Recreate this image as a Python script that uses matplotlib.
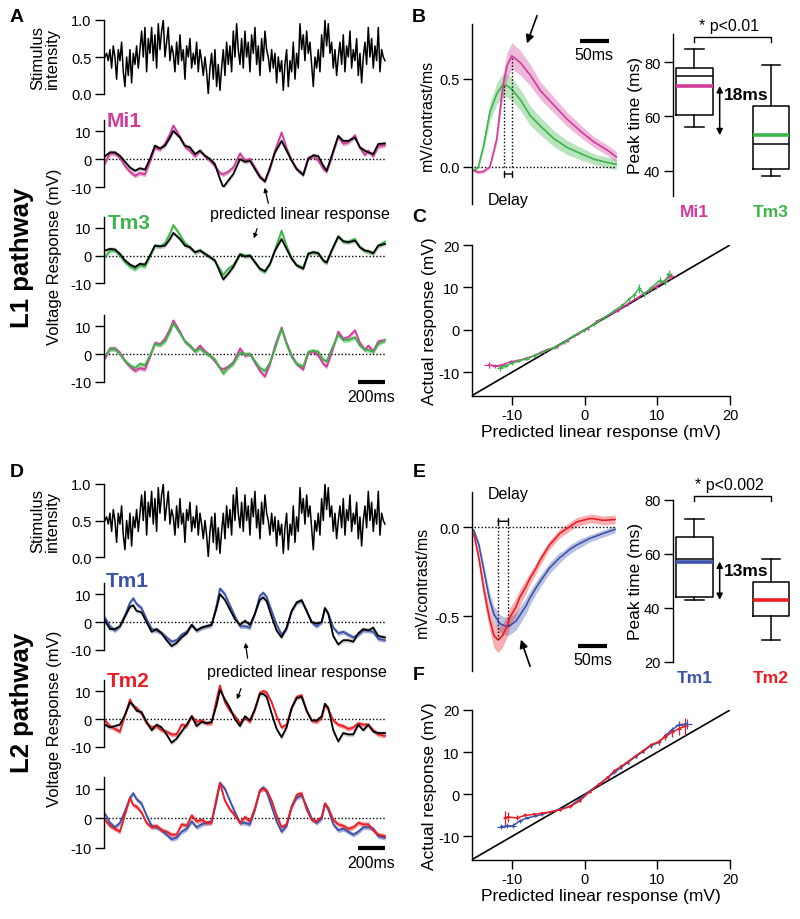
import numpy as np
import matplotlib
matplotlib.use('Agg')
import matplotlib.pyplot as plt
from matplotlib.ticker import FormatStrFormatter

plt.rcParams['font.family'] = ['Liberation Sans', 'DejaVu Sans']
plt.rcParams['axes.unicode_minus'] = False
plt.rcParams['axes.linewidth'] = 1.0

# colours
C_MI1 = '#d13b9b'
C_TM3 = '#3bb44a'
C_TM1 = '#3d52aa'
C_TM2 = '#ec1c24'

# ---- stimulus (same flicker for both pathways) ----
stim = [0.5, 0.55, 0.45, 0.6, 0.35, 0.65, 0.5, 0.2, 0.6, 0.45, 0.7, 0.3, 0.1, 0.5, 0.25, 0.6, 0.15, 0.55, 0.4, 0.65, 0.35,
        0.6, 0.85, 0.5, 0.9, 0.3, 0.75, 0.55, 0.9, 0.45, 0.8, 0.35, 0.95, 0.6, 0.85, 1.0, 0.5, 0.7, 0.9, 0.45, 0.65,
        0.55, 0.3, 0.7, 0.4, 0.8, 0.45, 0.6, 0.2, 0.65, 0.5, 0.75, 0.35, 0.55, 0.4, 0.7, 0.3, 0.6, 0.45, 0.25, 0.5,
        0.3, 0.0, 0.35, 0.55, 0.2, 0.6, 0.1, 0.4, 0.05, 0.35, 0.6, 0.25, 0.7, 0.4, 0.65, 0.3, 0.85, 0.5, 0.95, 0.6,
        0.4, 0.75, 0.35, 0.85, 0.5, 0.7, 0.3, 0.8, 0.55, 0.9, 0.4, 0.65, 0.25, 0.75, 0.45, 0.85, 0.6, 0.5, 0.3, 0.6,
        0.35, 0.55, 0.15, 0.5, 0.3, 0.45, 0.05, 0.4, 0.6, 0.1, 0.45, 0.3, 0.7, 0.2, 0.55, 0.35, 0.95, 0.6, 0.8, 0.45,
        0.85, 0.55, 0.7, 0.4, 0.1, 0.5, 0.35, 0.6, 0.3, 0.8, 0.5, 1.0, 0.65, 0.95, 0.55, 0.7, 0.35, 0.6, 0.25, 0.5,
        0.7, 0.4, 0.8, 0.3, 0.65, 0.5, 0.85, 0.35, 0.6, 0.45, 0.75, 0.25, 0.55, 0.15, 0.5, 0.7, 0.4, 0.9, 0.5, 0.75,
        0.35, 0.65, 0.45, 0.9, 0.3, 0.6, 0.5, 0.45]
stim_dur = 2080  # ms

# ---- L1 pathway responses (mV) ----
t_L1 = [0, 37, 74, 111, 149, 186, 223, 260, 297, 334, 371, 409, 446, 483, 508, 557, 594, 631, 669, 706,
        743, 780, 817, 854, 879, 916, 953, 1003, 1040, 1077, 1114, 1151, 1188, 1226, 1263, 1312, 1349, 1387, 1424, 1473,
        1510, 1548, 1585, 1622, 1647, 1684, 1733, 1770, 1807, 1857, 1894, 1931, 1956, 1993, 2030, 2080]
mi1 = [-1.5, 2.0, 2.0, 0.5, -2.5, -4.5, -6.0, -5.0, -5.5, -1.0, 4.0, 3.5, 5.5, 9.0, 12.0, 8.0, 4.5, 3.0, 1.0, 3.0,
       1.0, -0.5, -2.5, -5.0, -5.5, -4.5, -3.0, 2.0, -0.5, 0.0, -3.0, -6.0, -8.0, -3.5, 3.0, 9.5, 4.0, -0.5, -3.5, -5.5,
       0.5, 1.0, -0.5, -3.5, -4.5, 0.5, 8.0, 5.5, 6.0, 8.5, 4.0, 1.5, 3.0, 1.0, 4.5, 5.0]
mi1_pred = [1.0, 2.4, 2.4, 1.2, -1.0, -3.0, -4.2, -3.3, -3.8, 0.0, 4.8, 3.8, 4.8, 7.7, 10.1, 7.7, 4.8, 4.2, 1.8, 3.0,
            1.2, 0.0, -1.8, -7.1, -10.1, -7.7, -5.4, 0.0, -1.0, -0.6, -3.6, -6.5, -8.0, -3.0, 2.4, 6.5, 3.0, -0.6, -3.6, -5.7,
            0.0, 1.4, 1.0, -2.4, -4.2, 1.2, 8.3, 6.5, 6.5, 7.7, 4.2, 3.0, 2.4, 1.8, 5.4, 5.6]
tm3 = [-0.6, 1.8, 1.8, 0.0, -2.4, -4.0, -5.0, -3.5, -4.0, -0.5, 3.6, 3.3, 4.5, 8.0, 11.0, 7.5, 4.5, 3.0, 1.0, 2.0,
       0.5, -0.5, -2.0, -5.0, -7.0, -4.8, -3.5, 0.5, 0.0, 0.0, -2.5, -5.0, -6.0, -3.0, 2.0, 9.0, 3.5, -1.0, -3.5, -4.5,
       0.8, 1.2, 0.8, -2.0, -2.6, 1.8, 7.0, 5.0, 5.0, 6.0, 3.0, 1.6, 1.4, 0.8, 3.6, 5.0]
tm3_pred = [1.8, 2.4, 2.2, 0.6, -1.8, -3.3, -4.2, -3.0, -3.3, 0.0, 3.6, 3.3, 3.6, 6.0, 8.2, 6.0, 3.6, 3.0, 1.2, 1.8,
            0.6, -0.6, -1.8, -6.0, -8.7, -6.6, -4.2, 0.4, -0.4, 0.0, -2.4, -4.8, -5.7, -3.0, 1.8, 6.0, 2.4, -1.2, -3.6, -4.8,
            0.6, 1.2, 0.8, -1.8, -2.6, 1.8, 6.9, 5.2, 4.8, 5.4, 3.0, 1.8, 1.6, 0.8, 3.6, 4.2]

# ---- L2 pathway responses (mV) ----
t_L2 = [0, 37, 74, 111, 149, 186, 210, 235, 272, 309, 347, 384, 421, 458, 495, 532, 569, 607, 644, 681,
        718, 755, 792, 829, 854, 891, 928, 966, 1003, 1040, 1077, 1114, 1151, 1176, 1201, 1238, 1275, 1312, 1349, 1387,
        1424, 1461, 1498, 1535, 1572, 1610, 1634, 1659, 1696, 1733, 1770, 1807, 1845, 1882, 1919, 1956, 1993, 2030, 2080]
tm1 = [1.5, -1.5, -3.0, -1.5, 2.5, 7.0, 8.5, 6.5, 5.0, 1.0, -2.5, -3.0, -4.0, -5.5, -7.0, -6.5, -4.5, -3.5, -1.0, -3.0,
       -2.0, -1.5, -1.0, 6.0, 12.0, 10.0, 6.0, 2.0, -1.5, -1.5, -2.0, 3.0, 9.5, 10.5, 9.0, 4.0, -1.0, -4.5, -2.5, 4.0,
       7.0, 7.8, 4.0, 0.0, -1.5, 0.0, 5.0, 3.0, -2.0, -4.0, -3.5, -4.5, -5.5, -4.5, -3.0, -3.0, -3.5, -6.0, -6.5]
tm1_pred = [0.5, -2.5, -2.5, -1.5, 2.0, 5.5, 6.0, 4.0, 3.5, 0.0, -3.5, -2.5, -4.0, -6.5, -8.6, -7.5, -5.5, -4.0, -1.0, -3.0,
            -2.0, -1.5, -1.0, 5.0, 10.0, 8.0, 4.5, 1.0, -1.0, 0.5, -1.0, 3.0, 8.0, 8.8, 7.5, 2.0, -3.0, -5.5, -2.0, 4.0,
            7.0, 7.8, 4.0, 0.0, -0.5, 0.0, 5.0, 3.0, -5.0, -8.0, -6.5, -6.5, -7.0, -4.0, -2.5, -3.0, -2.0, -5.0, -5.5]
tm2 = [-0.5, -2.5, -3.5, -4.5, 1.5, 7.0, 4.5, 4.0, 2.0, -1.5, -3.0, -2.5, -4.0, -4.5, -5.5, -5.5, -2.0, -2.5, 1.0, -1.0,
       -0.5, -1.5, -1.5, 7.0, 12.0, 6.0, 3.0, 1.0, -1.5, 0.5, -1.0, 3.5, 9.5, 10.0, 9.5, 6.0, 1.0, -3.0, -2.0, 4.0,
       8.0, 8.5, 3.0, -0.5, -1.0, 0.5, 5.0, 3.5, -0.5, -2.0, -2.5, -3.5, -3.0, -1.5, -2.0, -2.0, -4.0, -5.5, -6.0]
tm2_pred = [-2.0, -3.0, -2.5, -2.0, 1.5, 6.0, 5.0, 3.0, 2.5, -1.0, -4.0, -2.0, -3.0, -5.5, -8.5, -7.0, -4.5, -2.0, 1.0, -2.5,
            -1.0, -1.5, -1.0, 5.0, 10.5, 7.0, 4.0, 0.0, -2.5, 1.0, -0.5, 3.5, 9.0, 9.0, 8.0, 2.0, -3.5, -6.5, -3.0, 4.0,
            7.5, 8.0, 3.0, -0.5, -0.5, 1.0, 5.5, 4.0, -4.0, -8.0, -5.0, -5.5, -5.5, -2.0, -4.0, -2.0, -4.5, -5.0, -5.0]
trace_sem = 0.8

# ---- linear filters (mV/contrast/ms) ----
t_filt_B = [0, 8, 17, 28, 40, 49, 53, 58, 66, 81, 98, 116, 139, 162, 186, 209, 232, 247]
filt_mi1 = [-0.02, -0.03, -0.025, 0.0, 0.16, 0.42, 0.5, 0.575, 0.63, 0.59, 0.52, 0.43, 0.35, 0.27, 0.2, 0.14, 0.094, 0.057]
sem_mi1 = [0.01, 0.01, 0.01, 0.01, 0.03, 0.06, 0.07, 0.075, 0.075, 0.07, 0.06, 0.05, 0.045, 0.04, 0.035, 0.03, 0.03, 0.03]
filt_tm3 = [-0.02, 0.0, 0.12, 0.31, 0.415, 0.46, 0.466, 0.46, 0.44, 0.38, 0.29, 0.23, 0.16, 0.11, 0.075, 0.043, 0.025, 0.015]
sem_tm3 = [0.01, 0.01, 0.03, 0.05, 0.06, 0.065, 0.065, 0.065, 0.065, 0.06, 0.055, 0.05, 0.045, 0.04, 0.035, 0.03, 0.03, 0.03]

t_filt_E = [0, 9, 18, 27, 35, 42, 44, 50, 59, 62, 73, 79, 91, 97, 108, 114, 131, 149, 155, 166, 178, 184, 201, 207, 224, 245]
filt_tm2 = [-0.034, -0.175, -0.36, -0.51, -0.61, -0.635, -0.63, -0.61, -0.55, -0.51, -0.45, -0.40, -0.33, -0.29, -0.23, -0.19,
            -0.10, -0.034, -0.02, 0.004, 0.03, 0.036, 0.05, 0.05, 0.04, 0.045]
filt_tm1 = [-0.015, -0.1, -0.25, -0.40, -0.49, -0.525, -0.54, -0.55, -0.56, -0.555, -0.53, -0.50, -0.44, -0.40, -0.34, -0.31,
            -0.23, -0.17, -0.156, -0.125, -0.10, -0.09, -0.062, -0.055, -0.034, -0.011]
sem_tm2 = [0.01, 0.03, 0.05, 0.06, 0.07, 0.07, 0.07, 0.065, 0.06, 0.055, 0.05, 0.045, 0.04, 0.035, 0.03, 0.03,
           0.025, 0.025, 0.025, 0.025, 0.025, 0.025, 0.025, 0.025, 0.025, 0.025]
sem_tm1 = [0.01, 0.02, 0.03, 0.04, 0.045, 0.05, 0.05, 0.05, 0.05, 0.05, 0.05, 0.05, 0.045, 0.04, 0.035, 0.035,
           0.03, 0.03, 0.025, 0.025, 0.025, 0.025, 0.02, 0.02, 0.02, 0.02]

# ---- peak times (ms), box plot stats ----
peak_names_B = ['Mi1', 'Tm3']
peak_lo_B = [56, 38]
peak_q1_B = [60.6, 40.6]
peak_med_B = [75, 50]
peak_q3_B = [77.7, 63.8]
peak_hi_B = [85, 79]
peak_mean_B = [71.2, 53.1]

peak_names_E = ['Tm1', 'Tm2']
peak_lo_E = [43, 28]
peak_q1_E = [44.2, 36.9]
peak_med_E = [58, 43]
peak_q3_E = [66.2, 49.5]
peak_hi_E = [72.8, 58.1]
peak_mean_E = [57.2, 43]

# ---- actual vs predicted (mV) ----
pred_mi1 = [-13.1, -12.3, -11.4, -10.2, -9.3, -8.2, -7.0, -6.1, -5.2, -3.8, -2.4, -1.0, 0.4, 1.75, 3.1, 4.5, 5.9, 7.3, 8.7, 9.8, 11.0, 11.9]
act_mi1 = [-8.3, -8.5, -8.3, -7.5, -7.3, -6.8, -6.1, -5.4, -4.7, -4.0, -2.6, -1.0, 0.3, 2.1, 3.3, 4.5, 6.1, 7.6, 9.2, 10.2, 11.6, 12.6]
xerr_mi1 = [0.7, 0.5, 0.4, 0.3, 0.2, 0.2, 0.2, 0.2, 0.2, 0.2, 0.2, 0.2, 0.2, 0.2, 0.2, 0.2, 0.2, 0.2, 0.2, 0.3, 0.4, 0.6]
yerr_mi1 = [0.6, 0.5, 0.5, 0.4, 0.4, 0.4, 0.3, 0.3, 0.3, 0.3, 0.3, 0.3, 0.3, 0.3, 0.3, 0.3, 0.4, 0.4, 0.4, 0.5, 0.6, 0.7]
pred_tm3 = [-11.6, -10.9, -10.0, -9.1, -7.9, -6.8, -5.6, -4.2, -2.9, -1.5, -0.1, 1.3, 2.7, 4.1, 5.2, 6.1, 6.8, 7.5, 8.2, 9.1, 10.3, 11.0, 11.6]
act_tm3 = [-8.9, -8.5, -7.9, -7.3, -6.8, -6.0, -5.1, -4.2, -3.0, -1.4, -0.2, 1.3, 2.9, 4.5, 5.8, 7.2, 8.2, 9.8, 8.4, 9.8, 11.6, 11.3, 13.1]
xerr_tm3 = [0.4, 0.3, 0.2, 0.2, 0.2, 0.2, 0.2, 0.2, 0.2, 0.2, 0.2, 0.2, 0.2, 0.2, 0.2, 0.2, 0.2, 0.2, 0.2, 0.2, 0.3, 0.3, 0.4]
yerr_tm3 = [0.7, 0.6, 0.5, 0.4, 0.4, 0.3, 0.3, 0.3, 0.3, 0.3, 0.3, 0.3, 0.3, 0.3, 0.4, 0.5, 0.6, 1.0, 0.6, 0.6, 0.8, 0.8, 0.9]

pred_tm1 = [-11.5, -10.7, -9.9, -8.9, -7.9, -6.8, -5.9, -4.8, -3.4, -2.0, -0.7, 0.7, 2.0, 3.2, 4.1, 5.0, 5.9, 7.0, 8.0, 9.1, 10.2, 11.1, 12.0, 13.0, 14.1]
act_tm1 = [-7.7, -7.5, -7.5, -6.3, -5.6, -5.2, -4.8, -4.2, -3.6, -2.8, -1.2, 0.8, 2.4, 4.0, 5.2, 6.3, 7.5, 8.9, 10.1, 11.5, 12.3, 13.9, 15.3, 16.5, 16.7]
xerr_tm1 = [0.5, 0.4, 0.4, 0.3, 0.2, 0.2, 0.2, 0.2, 0.2, 0.2, 0.2, 0.2, 0.2, 0.2, 0.2, 0.2, 0.2, 0.2, 0.2, 0.2, 0.3, 0.3, 0.4, 0.5, 0.7]
yerr_tm1 = [0.6, 0.6, 0.6, 0.4, 0.3, 0.3, 0.3, 0.3, 0.3, 0.3, 0.3, 0.3, 0.3, 0.3, 0.3, 0.3, 0.3, 0.3, 0.3, 0.4, 0.5, 0.5, 0.6, 1.0, 1.2]
pred_tm2 = [-11.0, -10.5, -9.3, -8.2, -7.0, -5.9, -4.8, -3.4, -2.0, -0.7, 0.7, 2.0, 3.2, 4.1, 5.0, 5.9, 7.0, 8.0, 9.1, 10.2, 11.1, 12.0, 13.0, 13.8]
act_tm2 = [-5.6, -5.4, -5.6, -5.0, -4.8, -4.5, -4.2, -3.7, -2.9, -1.6, 0.6, 2.4, 4.0, 5.6, 6.6, 7.7, 9.1, 10.3, 11.7, 12.5, 13.7, 14.7, 15.6, 16.1]
xerr_tm2 = [0.3, 0.3, 0.2, 0.2, 0.2, 0.2, 0.2, 0.2, 0.2, 0.2, 0.2, 0.2, 0.2, 0.2, 0.2, 0.2, 0.2, 0.2, 0.2, 0.2, 0.3, 0.3, 0.3, 0.4]
yerr_tm2 = [1.6, 1.2, 0.6, 0.5, 0.4, 0.4, 0.3, 0.3, 0.3, 0.3, 0.3, 0.3, 0.3, 0.3, 0.3, 0.3, 0.3, 0.4, 0.5, 0.6, 0.8, 1.0, 1.6, 2.0]

# ================= figure =================
W, H = 800, 920
fig = plt.figure(figsize=(W / 100, H / 100), dpi=100)

TICK = dict(length=6.5, width=1, labelsize=10.5, pad=2.5)


def axes_px(x0, y0, x1, y1):
    ax = fig.add_axes([x0 / W, 1 - y1 / H, (x1 - x0) / W, (y1 - y0) / H])
    ax.patch.set_alpha(0)
    return ax


def fx(x):
    return x / W


def fy(y):
    return 1 - y / H


def left_only(ax):
    for s in ['top', 'right', 'bottom']:
        ax.spines[s].set_visible(False)
    ax.set_xticks([])
    ax.tick_params(axis='y', **TICK)


def stim_axes(y0, y1):
    ax = axes_px(104, y0, 389, y1)
    left_only(ax)
    t = np.linspace(0, stim_dur, len(stim))
    ax.plot(t, stim, color='k', lw=1.1)
    ax.set_xlim(-7, 2110)
    ax.set_ylim(0, 1)
    ax.set_yticks([0, 0.5, 1.0])
    ax.yaxis.set_major_formatter(FormatStrFormatter('%.1f'))
    return ax


def trace_axes(y0, y1, t, series):
    ax = axes_px(104, y0, 389, y1)
    left_only(ax)
    ax.set_xlim(-7, 2110)
    ax.set_ylim(-10, 14)
    ax.set_yticks([-10, 0, 10])
    ax.hlines(0, t[0], t[-1], color='k', lw=1, linestyles=(0, (1, 1.5)))
    for vals, col, band in series:
        v = np.array(vals)
        ax.fill_between(t, v - trace_sem, v + trace_sem, color=band, alpha=0.45, lw=0)
        ax.plot(t, v, color=col, lw=1.3)
    return ax


GRAY = '#9a9a9a'

# ---------- Panel A ----------
stim_axes(21, 95)
trace_axes(121, 188, t_L1, [(mi1, C_MI1, C_MI1), (mi1_pred, 'k', GRAY)])
trace_axes(218, 284, t_L1, [(tm3, C_TM3, C_TM3), (tm3_pred, 'k', GRAY)])
axA3 = trace_axes(316, 383, t_L1, [(mi1, C_MI1, C_MI1), (tm3, C_TM3, C_TM3)])
axA3.plot([stim_dur - 200, stim_dur], [-10, -10], color='k', lw=3, clip_on=False, solid_capstyle='butt')
axA3.text(stim_dur - 100, -12.5, '200ms', ha='center', va='top', fontsize=11.5)

# ---------- Panel D ----------
stim_axes(485, 558)
trace_axes(584, 651, t_L2, [(tm1, C_TM1, C_TM1), (tm1_pred, 'k', GRAY)])
trace_axes(681, 748, t_L2, [(tm2, C_TM2, C_TM2), (tm2_pred, 'k', GRAY)])
axD3 = trace_axes(778, 849, t_L2, [(tm1, C_TM1, C_TM1), (tm2, C_TM2, C_TM2)])
axD3.plot([stim_dur - 200, stim_dur], [-10, -10], color='k', lw=3, clip_on=False, solid_capstyle='butt')
axD3.text(stim_dur - 100, -12.5, '200ms', ha='center', va='top', fontsize=11.5)

# labels for the trace columns
for yc_stim, yc_v, yc_path, path in [(58, 257, 258, 'L1 pathway'), (521, 719, 703, 'L2 pathway')]:
    fig.text(fx(45), fy(yc_stim), 'Stimulus\nintensity', rotation=90, ha='center', va='center',
             fontsize=12, linespacing=1.0)
    fig.text(fx(55), fy(yc_v), 'Voltage Response (mV)', rotation=90, ha='center', va='center', fontsize=12)
    fig.text(fx(22), fy(yc_path), path, rotation=90, ha='center', va='center', fontsize=18.5, weight='bold')

for name, col, x, y in [('Mi1', C_MI1, 107, 127), ('Tm3', C_TM3, 108, 229),
                        ('Tm1', C_TM1, 106, 587), ('Tm2', C_TM2, 107, 687)]:
    fig.text(fx(x), fy(y), name, color=col, fontsize=15, weight='bold', ha='left', va='baseline')

fig.text(fx(300), fy(215), 'predicted linear response', ha='center', va='center', fontsize=11.5)
fig.text(fx(297), fy(673), 'predicted linear response', ha='center', va='center', fontsize=11.5)
for (x0, y0, x1, y1) in [(269, 207, 264, 186), (258, 227, 253, 242), (248, 662, 245, 641), (242, 687, 236, 703)]:
    fig.add_artist(matplotlib.patches.FancyArrowPatch((fx(x0), fy(y0)), (fx(x1), fy(y1)),
                   transform=fig.transFigure, arrowstyle='-|>', mutation_scale=6, lw=0.9, color='k'))


# ---------- Panels B and E: filters ----------
def filter_axes(y0, y1, ylim, yticks, t, series, peak_fn):
    ax = axes_px(472, y0, 618, y1)
    left_only(ax)
    ax.set_xlim(-3, 250)
    ax.set_ylim(*ylim)
    ax.set_yticks(yticks)
    ax.yaxis.set_major_formatter(FormatStrFormatter('%.1f'))
    ax.set_ylabel('mV/contrast/ms', fontsize=11.5, labelpad=3)
    ax.hlines(0, 0, t[-1], color='k', lw=1, linestyles=(0, (1, 1.5)))
    peaks = []
    for vals, sem, col in series:
        v = np.array(vals)
        s = np.array(sem)
        ax.fill_between(t, v - s, v + s, color=col, alpha=0.35, lw=0)
        ax.plot(t, v, color=col, lw=1.2)
        i = peak_fn(v)
        ax.vlines(t[i], 0, v[i], color='k', lw=1, linestyles=(0, (1, 1.5)))
        peaks.append(t[i])
    return ax, peaks


axB, pk = filter_axes(25, 205, (-0.21, 0.81), [0, 0.5], t_filt_B,
                      [(filt_tm3, sem_tm3, C_TM3), (filt_mi1, sem_mi1, C_MI1)], np.argmax)
axB.annotate('', xy=(pk[1], -0.04), xytext=(pk[0], -0.04),
             arrowprops=dict(arrowstyle='|-|, widthA=0.25, widthB=0.25', lw=1, color='k', shrinkA=0, shrinkB=0))
axB.plot([184, 234], [0.716, 0.716], color='k', lw=3, solid_capstyle='butt')
axB.text(209, 0.68, '50ms', ha='center', va='top', fontsize=11.5)
fig.text(fx(508), fy(200), 'Delay', ha='center', va='center', fontsize=11.5)
fig.add_artist(matplotlib.patches.FancyArrowPatch((fx(538), fy(14)), (fx(526), fy(47)),
               transform=fig.transFigure, arrowstyle='-|>', mutation_scale=12, lw=1.2, color='k'))

axE, pk = filter_axes(493, 672, (-0.81, 0.2), [-0.5, 0.0], t_filt_E,
                      [(filt_tm1, sem_tm1, C_TM1), (filt_tm2, sem_tm2, C_TM2)], np.argmin)
axE.annotate('', xy=(pk[0], 0.035), xytext=(pk[1], 0.035),
             arrowprops=dict(arrowstyle='|-|, widthA=0.25, widthB=0.25', lw=1, color='k', shrinkA=0, shrinkB=0))
axE.plot([181, 231], [-0.67, -0.67], color='k', lw=3, solid_capstyle='butt')
axE.text(206, -0.7, '50ms', ha='center', va='top', fontsize=11.5)
fig.text(fx(508), fy(495), 'Delay', ha='center', va='center', fontsize=11.5)
fig.add_artist(matplotlib.patches.FancyArrowPatch((fx(531), fy(670)), (fx(520), fy(638)),
               transform=fig.transFigure, arrowstyle='-|>', mutation_scale=12, lw=1.2, color='k'))


# ---------- box plots ----------
def box_axes(y0, y1, ylim, yticks, names, lo, q1, med, q3, hi, mean, cols, sig, sig_y, arrow_txt):
    ax = axes_px(673, y0, 797, y1)
    for s in ['top', 'right', 'bottom']:
        ax.spines[s].set_visible(False)
    stats = [dict(whislo=lo[i], q1=q1[i], med=med[i], q3=q3[i], whishi=hi[i], label=names[i])
             for i in range(len(names))]
    pos = [1, 2]
    ax.bxp(stats, positions=pos, widths=0.48, showfliers=False, capwidths=0.24,
           boxprops=dict(lw=1.1, color='k'), medianprops=dict(lw=1.1, color='k'),
           whiskerprops=dict(lw=1.1, color='k'), capprops=dict(lw=1.1, color='k'))
    for p, m, c in zip(pos, mean, cols):
        ax.hlines(m, p - 0.24, p + 0.24, color=c, lw=2.6, zorder=5)
    ax.set_xlim(0.72, 2.34)
    ax.set_ylim(*ylim)
    ax.set_yticks(yticks)
    ax.tick_params(axis='y', **TICK)
    ax.tick_params(axis='x', length=0, labelsize=12.5, pad=6)
    ax.set_xticks(pos)
    ax.set_xticklabels(names, weight='bold')
    for lab, c in zip(ax.get_xticklabels(), cols):
        lab.set_color(c)
    ax.set_ylabel('Peak time (ms)', fontsize=12.5, labelpad=1)
    ax.plot([1, 1, 2, 2], [sig_y - 1.9, sig_y, sig_y, sig_y - 1.9], color='k', lw=1, clip_on=False)
    ax.text(1.45, sig_y + 1.3, sig, ha='center', va='bottom', fontsize=11.5)
    ax.annotate('', xy=(1.33, mean[1]), xytext=(1.33, mean[0]),
                arrowprops=dict(arrowstyle='<|-|>', mutation_scale=9, lw=1.1, color='k', shrinkA=0, shrinkB=0))
    ax.text(1.38, mean[0] - 3.2, arrow_txt, ha='left', va='center', fontsize=12.5, weight='bold')
    return ax


box_axes(35, 197, (30.7, 90.4), [40, 60, 80], peak_names_B, peak_lo_B, peak_q1_B, peak_med_B, peak_q3_B,
         peak_hi_B, peak_mean_B, [C_MI1, C_TM3], '* p<0.01', 89.3, '18ms')
box_axes(501, 663, (20, 80), [20, 40, 60, 80], peak_names_E, peak_lo_E, peak_q1_E, peak_med_E, peak_q3_E,
         peak_hi_E, peak_mean_E, [C_TM1, C_TM2], '* p<0.002', 81.5, '13ms')


# ---------- Panels C and F: actual vs predicted ----------
def io_axes(y0, y1, series):
    ax = axes_px(472, y0, 730, y1)
    for s in ['top', 'right']:
        ax.spines[s].set_visible(False)
    ax.set_xlim(-15.5, 20)
    ax.set_ylim(-15.6, 20)
    ax.set_xticks([-10, 0, 10, 20])
    ax.set_yticks([-10, 0, 10, 20])
    ax.tick_params(**TICK)
    ax.plot([-15.5, 20], [-15.5, 20], color='k', lw=1.2)
    for x, y, xe, ye, c in series:
        ax.errorbar(x, y, xerr=xe, yerr=ye, color=c, lw=1.1, elinewidth=0.9, capsize=1.5,
                    marker='s', ms=2, mew=0)
    ax.set_xlabel('Predicted linear response (mV)', fontsize=12.5, labelpad=1)
    ax.set_ylabel('Actual response (mV)', fontsize=12.5, labelpad=1)
    return ax


io_axes(246, 397, [(pred_mi1, act_mi1, xerr_mi1, yerr_mi1, C_MI1), (pred_tm3, act_tm3, xerr_tm3, yerr_tm3, C_TM3)])
io_axes(711, 861, [(pred_tm1, act_tm1, xerr_tm1, yerr_tm1, C_TM1), (pred_tm2, act_tm2, xerr_tm2, yerr_tm2, C_TM2)])

# panel letters
for letter, x, y in [('A', 17, 17), ('B', 419, 17), ('C', 419, 218),
                     ('D', 17, 473), ('E', 419, 473), ('F', 419, 676)]:
    fig.text(fx(x), fy(y), letter, ha='center', va='center', fontsize=14, weight='bold')

fig.savefig('out.png', dpi=100)
